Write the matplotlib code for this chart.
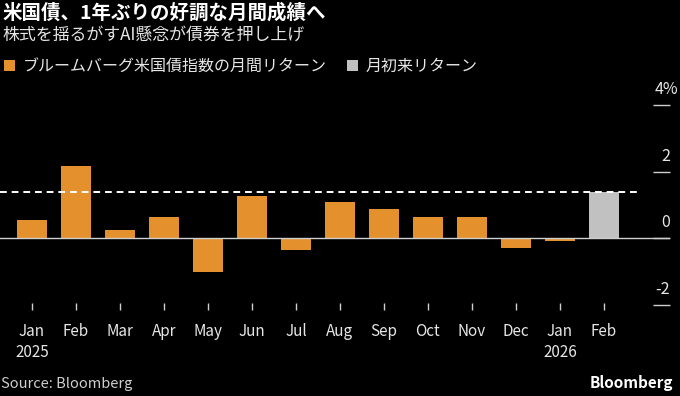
import numpy as np
import matplotlib
matplotlib.use('Agg')
import matplotlib.pyplot as plt
from matplotlib.patches import Patch
from matplotlib.transforms import ScaledTranslation

plt.rcParams['font.family'] = ['Noto Sans CJK JP', 'DejaVu Sans']

# data (monthly return, %)
months = ['Jan\n2025', 'Feb', 'Mar', 'Apr', 'May', 'Jun', 'Jul', 'Aug',
          'Sep', 'Oct', 'Nov', 'Dec', 'Jan\n2026', 'Feb']
monthly_returns = [0.53, 2.18, 0.25, 0.64, -1.02, 1.26, -0.37, 1.08,
                   0.86, 0.63, 0.63, -0.31, -0.08]
mtd_return = 1.39
y_ticks = [-2, 0, 2, 4]
y_labels = ['-2', '0', '2', '4%']

title = '米国債、1年ぶりの好調な月間成績へ'
subtitle = '株式を揺るがすAI懸念が債券を押し上げ'
legend_labels = ['ブルームバーグ米国債指数の月間リターン', '月初来リターン']

orange = '#e3902d'
grey = '#c1c1c1'
text_col = '#e6e6e6'
tick_col = '#cfcfcf'

fig = plt.figure(figsize=(6.8, 3.96), dpi=100, facecolor='black')
ax = fig.add_axes([0, 86 / 396, 670 / 680, 225 / 396])
ax.set_facecolor('black')

x = np.arange(len(months))
ax.bar(x[:len(monthly_returns)], monthly_returns, width=0.7, color=orange)
ax.bar(x[-1], mtd_return, width=0.7, color=grey)

ax.set_xlim(-0.727, 14.5)
ax.set_ylim(-2.16, 4.6)

ax.axhline(0, color=tick_col, lw=1, zorder=3)
ax.hlines(mtd_return, -0.727, 13.75, colors='white', linestyles=(0, (3.5, 2.5)),
          lw=1.4, zorder=4)

for s in ax.spines.values():
    s.set_visible(False)

# x axis
ax.set_xticks(x)
ax.set_xticklabels(months, fontsize=11, color=text_col, linespacing=1.35)
ax.tick_params(axis='x', direction='in', length=5, width=1, color=tick_col, pad=9)

# y axis on the right, labels sitting above short tick lines
ax.yaxis.tick_right()
ax.set_yticks(y_ticks)
ax.set_yticklabels(y_labels, fontsize=11.5, color=text_col)
ax.tick_params(axis='y', direction='in', length=12.5, width=1, color=tick_col, pad=0)
for lab in ax.get_yticklabels():
    dx = 0.085 if lab.get_text().endswith('%') else 0.0
    lab.set_horizontalalignment('right')
    lab.set_verticalalignment('bottom')
    lab.set_transform(lab.get_transform()
                      + ScaledTranslation(dx, 0.07, fig.dpi_scale_trans))

# titles
fig.text(0.004, 1 - 3 / 396, title, fontsize=14, fontweight='bold',
         color='white', va='top')
fig.text(0.004, 1 - 26 / 396, subtitle, fontsize=12.2, color=text_col, va='top')

handles = [Patch(facecolor=orange), Patch(facecolor=grey)]
fig.legend(handles, legend_labels, loc='upper left',
           bbox_to_anchor=(0.006, 1 - 58 / 396), ncol=2, frameon=False,
           fontsize=11.5, labelcolor=text_col, handlelength=0.7,
           handleheight=0.7, handletextpad=0.45, columnspacing=1.3,
           borderpad=0, borderaxespad=0)

fig.text(0.002, 1 - 384 / 396, 'Source: Bloomberg', fontsize=10.5,
         color=tick_col, va='center')
fig.text(0.99, 1 - 383 / 396, 'Bloomberg', fontsize=11, fontweight='bold',
         color='white', va='center', ha='right')

fig.savefig('out.png', dpi=100, facecolor='black')
